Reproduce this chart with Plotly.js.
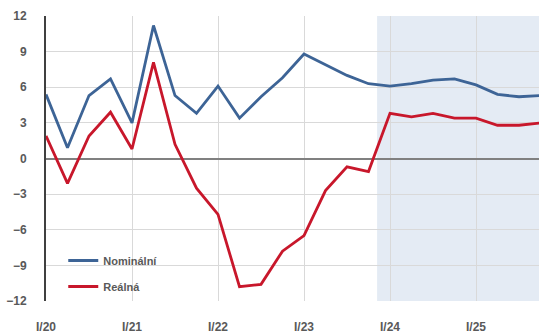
<!DOCTYPE html>
<html>
<head>
<meta charset="utf-8">
<script src="https://cdn.plot.ly/plotly-3.0.1.min.js"></script>
<style>html,body{margin:0;padding:0;background:#fff;}#chart{width:539px;height:335px;}</style>
</head>
<body>
<div id="chart"></div>
<script>
const quarters = ["I/20","II/20","III/20","IV/20","I/21","II/21","III/21","IV/21","I/22","II/22","III/22","IV/22","I/23","II/23","III/23","IV/23","I/24","II/24","III/24","IV/24","I/25","II/25","III/25","IV/25"];
const nominalni = [5.4, 0.9, 5.3, 6.7, 3.0, 11.2, 5.3, 3.8, 6.1, 3.4, 5.2, 6.8, 8.8, 7.9, 7.0, 6.3, 6.1, 6.3, 6.6, 6.7, 6.2, 5.4, 5.2, 5.3];
const realna = [1.9, -2.1, 1.9, 3.9, 0.8, 8.1, 1.2, -2.5, -4.7, -10.8, -10.6, -7.8, -6.5, -2.7, -0.7, -1.1, 3.8, 3.5, 3.8, 3.4, 3.4, 2.8, 2.8, 3.0];
const tickLabels = ["I/20","I/21","I/22","I/23","I/24","I/25"];
const yTicks = [-12,-9,-6,-3,0,3,6,9,12];

const fam = "Liberation Sans, Arial, sans-serif";
const tickFont = {family: fam, size: 12, color: "#595959", weight: "bold"};

const traces = [
  {x: quarters, y: nominalni, type: "scatter", mode: "lines", name: "Nominální", legendgroup: "a",
   line: {color: "#3D6496", width: 2.8}},
  {x: quarters, y: realna, type: "scatter", mode: "lines", name: "Reálná", legendgroup: "b",
   line: {color: "#C8172B", width: 2.8}}
];

const layout = {
  width: 539, height: 335,
  margin: {l: 46, r: 0, t: 16, b: 34, pad: 0},
  paper_bgcolor: "#ffffff", plot_bgcolor: "#ffffff",
  font: {family: fam, size: 11, color: "#595959"},
  showlegend: true,
  legend: {x: 0.035, y: 0.0, xanchor: "left", yanchor: "bottom", bgcolor: "rgba(0,0,0,0)",
           font: {family: fam, size: 11, color: "#595959", weight: "bold"}, tracegroupgap: 7},
  xaxis: {
    type: "category", categoryorder: "array", categoryarray: quarters,
    range: [0, 22.93], tickvals: tickLabels, ticktext: tickLabels,
    showgrid: true, gridcolor: "#D9D9D9", gridwidth: 1,
    showline: false, zeroline: false, ticks: "", ticklabelstandoff: 17,
    tickfont: tickFont
  },
  yaxis: {
    range: [-12, 12], tickvals: yTicks,
    showgrid: true, gridcolor: "#D9D9D9", gridwidth: 1,
    zeroline: true, zerolinecolor: "#808080", zerolinewidth: 2,
    showline: true, linecolor: "#404040", linewidth: 2,
    ticks: "", ticklabelstandoff: 15,
    tickfont: tickFont
  },
  shapes: [
    {type: "rect", xref: "x", yref: "paper", x0: 15.4, x1: 24, y0: 0, y1: 1,
     fillcolor: "#E4EBF4", line: {width: 0}, layer: "below"}
  ]
};

Plotly.newPlot("chart", traces, layout, {displayModeBar: false, staticPlot: true});
</script>
</body>
</html>
